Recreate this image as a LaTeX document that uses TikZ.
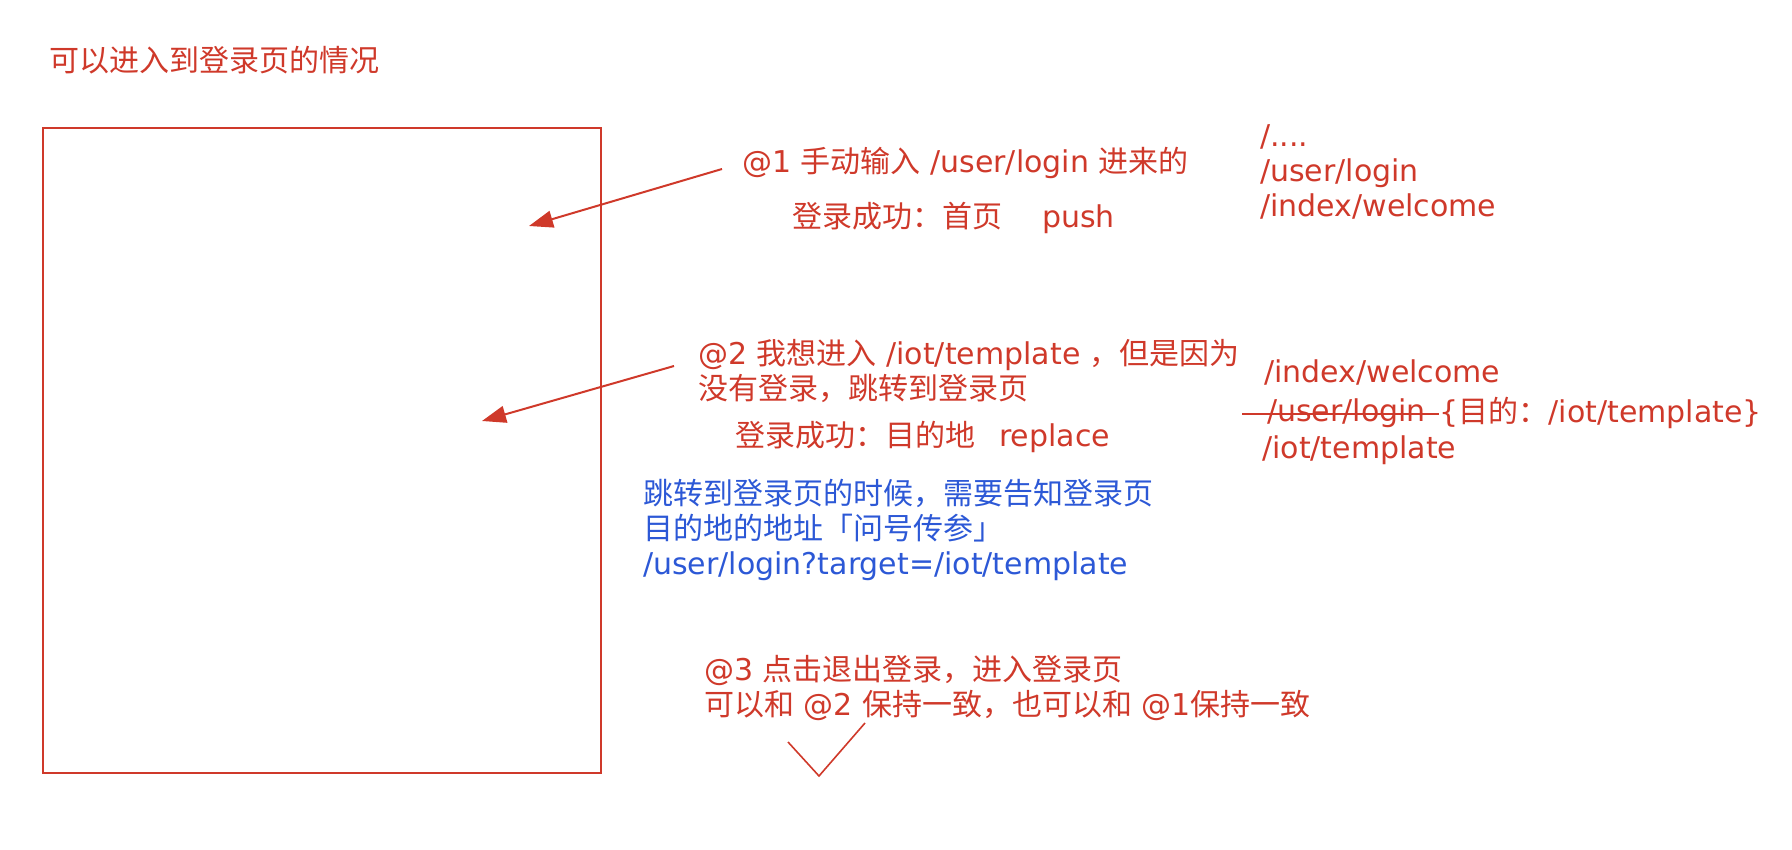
\documentclass[tikz,border=0pt]{standalone}
\usepackage{fontspec}
\usepackage{tikz}
\usepackage{xcolor}
\setmainfont{DejaVu Sans}
\newfontfamily\cjk{Noto Sans CJK SC}
\newcommand\zh[1]{{\cjk #1}}
\usetikzlibrary{arrows.meta}
\definecolor{notered}{RGB}{207,57,42}
\definecolor{noteblue}{RGB}{44,88,214}

\begin{document}
\begin{tikzpicture}[
  x=1pt, y=-1pt,
  font=\fontsize{30}{35}\selectfont,
  every node/.style={inner sep=0pt, anchor=west, align=left},
  txt/.style={text=notered},
  hint/.style={text=noteblue},
  frame/.style={draw=notered, line width=2pt},
  pointer/.style={draw=notered, line width=2pt, -{Triangle[length=24pt,width=17pt]}},
  strike/.style={draw=notered, line width=1.6pt},
  tick/.style={draw=notered, line width=1.6pt},
]
\useasboundingbox (0,0) rectangle (1792,850);
% --- naglowek ---
\node[txt] (title) at (49,60) {\zh{可以进入到登录页的情况}};
% --- strona logowania ---
\draw[frame] (43,128) rectangle (601,773);
% ===================== @1 =====================
\node[txt] (case1) at (742,163) {@1 \zh{手动输入} /user/login \zh{进来的}};
\node[txt] (done1) at (792,218) {\zh{登录成功：首页}\hspace{40pt}push};
\node[txt] (stack1) at (1260,172) {/....\\/user/login\\/index/welcome};
\coordinate (tip1) at (529,226);
\draw[pointer] ([shift={(-20,6)}]case1.west) -- (tip1);
% ===================== @2 =====================
\node[txt] (case2) at (698,371) {@2 \zh{我想进入} /iot/template \zh{，但是因为}\\\zh{没有登录，跳转到登录页}};
\node[txt] (done2) at (735,437) {\zh{登录成功：目的地}\hspace{24pt}replace};
\node[txt] (welcome2) at (1264,372) {/index/welcome};
\node[txt] (login2) at (1267,413) {/user/login};
\node[txt, anchor=east] (goal) at (1762,413) {\{\zh{目的：}/iot/template\}};
\node[txt] (iot2) at (1262,450) {/iot/template};
\coordinate (strikeL) at (1242,414);
\draw[strike] (strikeL) -- (strikeL -| goal.west);
\coordinate (tip2) at (482,421);
\draw[pointer] ([shift={(-24,-5)}]case2.west) -- (tip2);
% --- przekazanie celu ---
\node[hint] (hint) at (643,530) {\zh{跳转到登录页的时候，需要告知登录页}\\\zh{目的地的地址「问号传参」}\\/user/login?target=/iot/template};
% ===================== @3 =====================
\node[txt] (case3) at (704,688) {@3 \zh{点击退出登录，进入登录页}\\\zh{可以和} @2 \zh{保持一致，也可以和} @1\zh{保持一致}};
\draw[tick] (788,742) -- (819,776) -- (865,723);
\end{tikzpicture}
\end{document}
